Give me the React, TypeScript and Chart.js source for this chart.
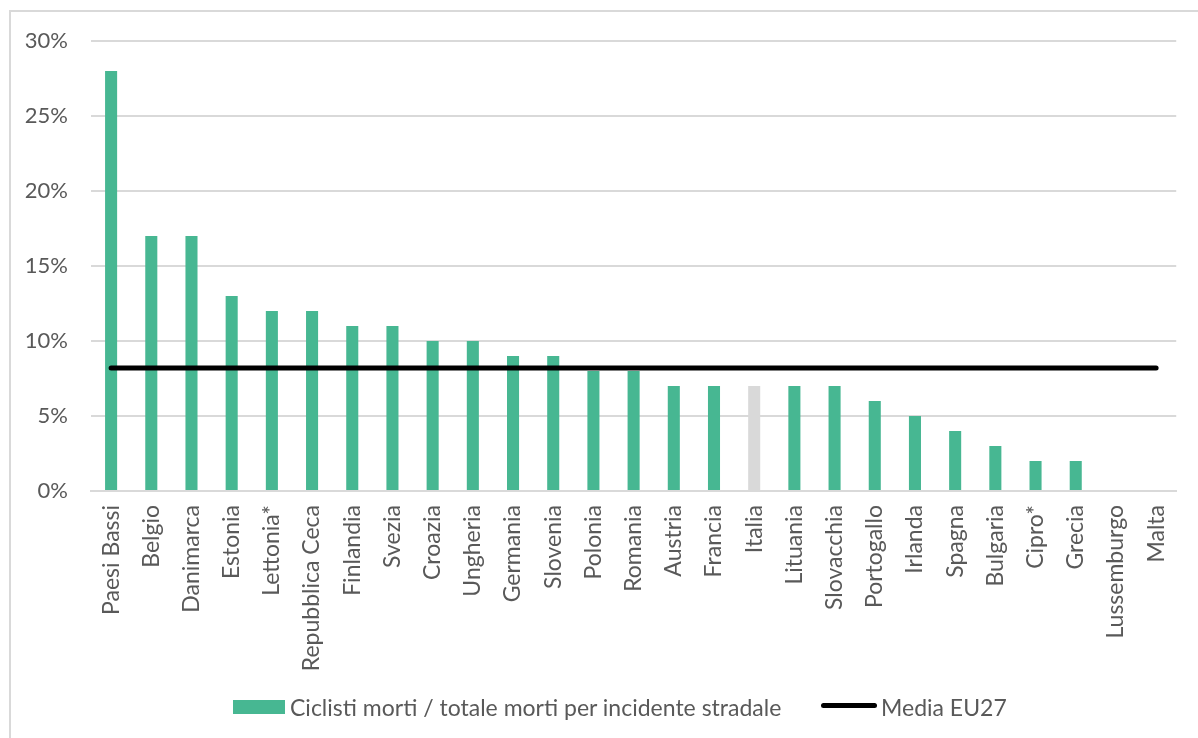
import React, { useEffect, useRef } from "react";
import { Chart, registerables } from "chart.js";

Chart.register(...registerables);

const categories = [
  "Paesi Bassi", "Belgio", "Danimarca", "Estonia", "Lettonia*", "Repubblica Ceca",
  "Finlandia", "Svezia", "Croazia", "Ungheria", "Germania", "Slovenia", "Polonia",
  "Romania", "Austria", "Francia", "Italia", "Lituania", "Slovacchia", "Portogallo",
  "Irlanda", "Spagna", "Bulgaria", "Cipro*", "Grecia", "Lussemburgo", "Malta",
];
const cyclistShare = [28, 17, 17, 13, 12, 12, 11, 11, 10, 10, 9, 9, 8, 8, 7, 7, 7, 7, 7, 6, 5, 4, 3, 2, 2, 0, 0];
const euAverage = 8.2;
const yTicks = [0, 5, 10, 15, 20, 25, 30];

const barLabel = "Ciclisti morti / totale morti per incidente stradale";
const lineLabel = "Media EU27";

const GREEN = "#47B792";
const GREY = "#D9D9D9";
const TEXT = "#595959";
const FONT = "Lato";

export default function App() {
  const ref = useRef<HTMLCanvasElement | null>(null);

  useEffect(() => {
    if (!ref.current) return;
    const chart = new Chart(ref.current, {
      type: "bar",
      data: {
        labels: categories,
        datasets: [
          {
            type: "line",
            label: lineLabel,
            data: categories.map(() => euAverage),
            borderColor: "#000000",
            borderWidth: 5,
            borderCapStyle: "round",
            pointRadius: 0,
            fill: false,
            order: 0,
          } as any,
          {
            type: "bar",
            label: barLabel,
            data: cyclistShare,
            backgroundColor: categories.map((c) => (c === "Italia" ? GREY : GREEN)),
            borderWidth: 0,
            categoryPercentage: 1,
            barPercentage: 0.3,
            order: 1,
          },
        ],
      },
      options: {
        animation: false,
        responsive: false,
        maintainAspectRatio: false,
        layout: { padding: { top: 41, right: 15, left: 0, bottom: 0 } },
        plugins: {
          legend: { display: false },
          tooltip: { enabled: false },
        },
        scales: {
          x: {
            grid: { display: false, drawTicks: false },
            border: { display: true, color: GREY, width: 2 },
            ticks: {
              color: TEXT,
              font: { family: FONT, size: 23 },
              minRotation: 90,
              maxRotation: 90,
              autoSkip: false,
              padding: 14,
            },
            afterFit: (axis: any) => {
              axis.height = 247;
            },
          },
          y: {
            min: 0,
            max: 30,
            afterBuildTicks: (axis: any) => {
              axis.ticks = yTicks.map((v) => ({ value: v }));
            },
            grid: { color: GREY, lineWidth: 2, drawTicks: false },
            border: { display: false },
            ticks: {
              color: TEXT,
              font: { family: FONT, size: 22 },
              padding: 23,
              callback: (v: any) => `${v}%`,
            },
            afterFit: (axis: any) => {
              axis.width = 91;
            },
          },
        },
      },
    });
    return () => chart.destroy();
  }, []);

  const textStyle: React.CSSProperties = {
    position: "absolute",
    top: 707,
    transform: "translateY(-50%)",
    fontFamily: FONT,
    fontSize: 23,
    color: TEXT,
    whiteSpace: "nowrap",
    lineHeight: 1,
  };

  return (
    <div style={{ position: "fixed", left: 0, top: 0, width: 1198, height: 738, background: "#fff", overflow: "hidden" }}>
      <div
        style={{
          position: "absolute",
          left: 9,
          top: 10,
          width: 1300,
          height: 800,
          border: "2px solid #D9D9D9",
          boxSizing: "border-box",
        }}
      />
      <canvas ref={ref} width={1198} height={738} style={{ position: "absolute", left: 0, top: 0 }} />
      <div style={{ position: "absolute", left: 233, top: 700, width: 52, height: 14, background: GREEN }} />
      <div style={{ ...textStyle, left: 290 }}>{barLabel}</div>
      <div style={{ position: "absolute", left: 821, top: 703, width: 56, height: 5, background: "#000", borderRadius: 3 }} />
      <div style={{ ...textStyle, left: 881 }}>{lineLabel}</div>
    </div>
  );
}
